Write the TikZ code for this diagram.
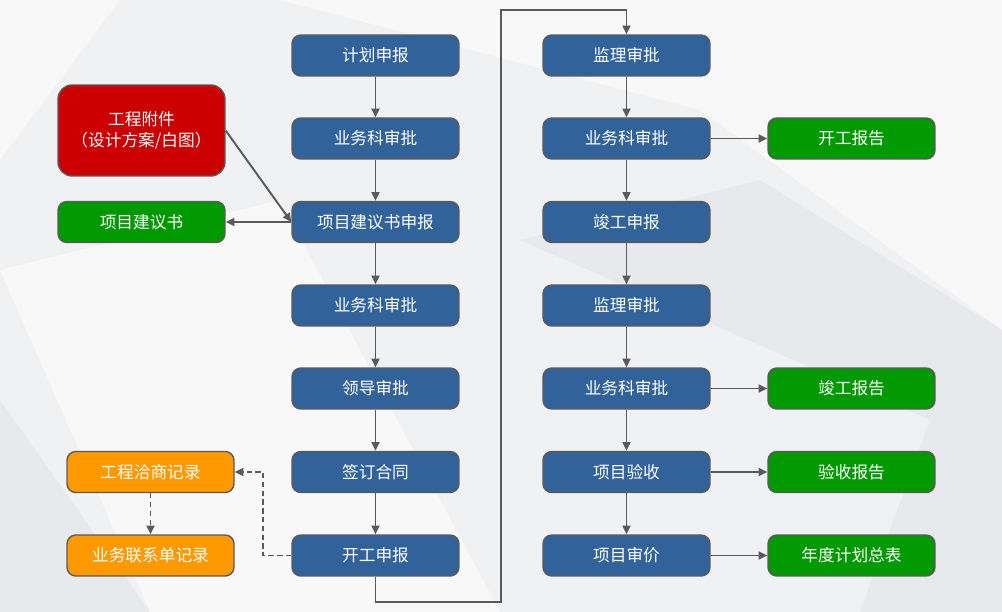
\documentclass[tikz,border=0pt]{standalone}
\usepackage{fontspec}
\setmainfont{Noto Sans CJK SC}
\usetikzlibrary{arrows.meta}
\definecolor{bgfill}{HTML}{F0F1F3}
\definecolor{bgdark}{HTML}{E8E9EC}
\definecolor{bglight}{HTML}{F8F8F9}
\definecolor{stepblue}{HTML}{31639A}
\definecolor{docgreen}{HTML}{009900}
\definecolor{attred}{HTML}{CC0000}
\definecolor{recorange}{HTML}{FF9900}
\definecolor{edgegrey}{HTML}{5A5A5A}
\tikzset{
  flowbox/.style={draw=edgegrey, line width=0.8pt, rounded corners=5pt, text=white,
    minimum width=3.34cm, minimum height=0.82cm, inner sep=0pt, align=center,
    font=\fontsize{9.5pt}{12pt}\selectfont},
  bluebox/.style={flowbox, fill=stepblue},
  greenbox/.style={flowbox, fill=docgreen},
  redbox/.style={flowbox, fill=attred, minimum height=1.82cm, rounded corners=8pt},
  orangebox/.style={flowbox, fill=recorange},
  link/.style={draw=edgegrey, line width=1.1pt, -{Triangle[length=5pt,width=4.5pt]}},
  dashlink/.style={link, dash pattern=on 3pt off 2pt}
}
\begin{document}
\begin{tikzpicture}[x=0.02cm, y=-0.02cm]
		%%%%% START %%%%%
		
		\fill[bgfill] (0, 0) rectangle (1002, 612);
		\useasboundingbox (0, 0) rectangle (1002, 612);
		\fill[bglight] (280, 0) -- (1002, 0) -- (1002, 330) -- (700, 110) -- cycle;
		\fill[bglight] (0, 0) -- (120, 0) -- (0, 160) -- cycle;
		\fill[bgdark] (0, 400) -- (150, 612) -- (0, 612) -- cycle;
		\fill[bgdark] (1002, 330) -- (1002, 612) -- (860, 612) -- (930, 420) -- cycle;
		\fill[bglight] (0, 270) -- (280, 200) -- (500, 612) -- (150, 612) -- cycle;
		\fill[bgdark] (520, 240) -- (760, 180) -- (1002, 330) -- (930, 420) -- cycle;
		
		% left column
		\node[bluebox] (jhsb) at (375.5, 55.5) {计划申报};
		\node[bluebox] (ywk1) at (375.5, 138.5) {业务科审批};
		\node[bluebox] (xmjy) at (375.5, 222) {项目建议书申报};
		\node[bluebox] (ywk2) at (375.5, 305.5) {业务科审批};
		\node[bluebox] (ldsp) at (375.5, 388.5) {领导审批};
		\node[bluebox] (qdht) at (375.5, 472) {签订合同};
		\node[bluebox] (kgsb) at (375.5, 555.5) {开工申报};
		
		% right column
		\node[bluebox] (jlsp1) at (626.5, 55.5) {监理审批};
		\node[bluebox] (ywk3) at (626.5, 138.5) {业务科审批};
		\node[bluebox] (jgsb) at (626.5, 222) {竣工申报};
		\node[bluebox] (jlsp2) at (626.5, 305.5) {监理审批};
		\node[bluebox] (ywk4) at (626.5, 388.5) {业务科审批};
		\node[bluebox] (xmys) at (626.5, 472) {项目验收};
		\node[bluebox] (xmsj) at (626.5, 555.5) {项目审价};
		
		% documents
		\node[redbox] (gcfj) at (141.5, 130.5) {工程附件\\（设计方案/白图）};
		\node[greenbox] (jys) at (141.5, 222) {项目建议书};
		\node[greenbox] (kgbg) at (851.5, 138.5) {开工报告};
		\node[greenbox] (jgbg) at (851.5, 388.5) {竣工报告};
		\node[greenbox] (ysbg) at (851.5, 472) {验收报告};
		\node[greenbox] (ndjh) at (851.5, 555.5) {年度计划总表};
		\node[orangebox] (qsjl) at (150.5, 472) {工程洽商记录};
		\node[orangebox] (lxjl) at (150.5, 555.5) {业务联系单记录};
		
		\coordinate (lowturn) at (501, 602);
		\coordinate (topturn) at (501, 10);
		\coordinate (dashturn) at (263, 555.5);
		
		\draw[link] (jhsb) -- (ywk1);
		\draw[link] (ywk1) -- (xmjy);
		\draw[link] (xmjy) -- (ywk2);
		\draw[link] (ywk2) -- (ldsp);
		\draw[link] (ldsp) -- (qdht);
		\draw[link] (qdht) -- (kgsb);
		\draw[link] (kgsb.south) |- (lowturn) -- (topturn) -| (jlsp1.north);
		\draw[link] (jlsp1) -- (ywk3);
		\draw[link] (ywk3) -- (jgsb);
		\draw[link] (jgsb) -- (jlsp2);
		\draw[link] (jlsp2) -- (ywk4);
		\draw[link] (ywk4) -- (xmys);
		\draw[link] (xmys) -- (xmsj);
		
		\draw[link] (gcfj.east) -- (xmjy.west);
		\draw[link] (xmjy) -- (jys);
		\draw[link] (ywk3) -- (kgbg);
		\draw[link] (ywk4) -- (jgbg);
		\draw[link] (xmys) -- (ysbg);
		\draw[link] (xmsj) -- (ndjh);
		
		\draw[dashlink] (kgsb.west) -- (dashturn) |- (qsjl.east);
		\draw[dashlink] (qsjl) -- (lxjl);
		
		%%%%% END %%%%%
\end{tikzpicture}
\end{document}
